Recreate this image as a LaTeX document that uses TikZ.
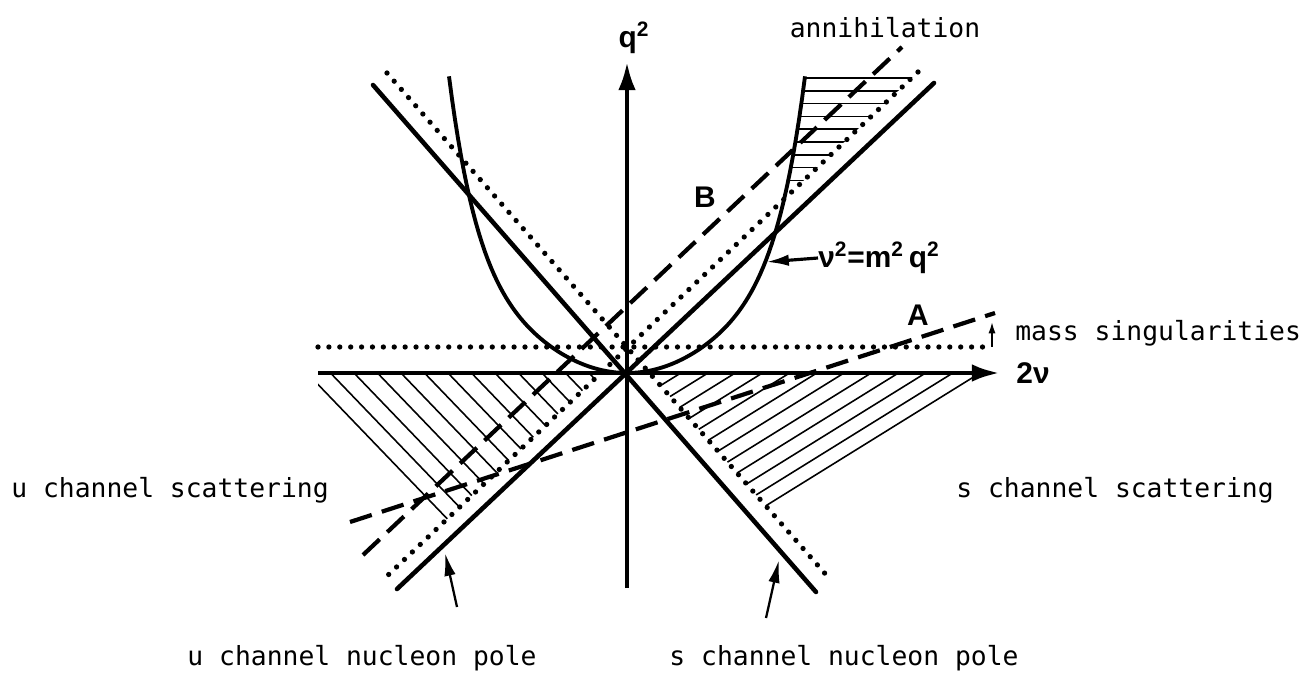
\documentclass[tikz,border=0pt]{standalone}
\usepackage{fontspec}
\setmonofont{DejaVu Sans Mono}
\newfontfamily\lblsans{Liberation Sans}
\usetikzlibrary{arrows.meta}

\begin{document}
\begin{tikzpicture}[x=0.02cm, y=-0.02cm,
  pole/.style={line width=2.6pt, line cap=round},
  axisln/.style={line width=2.4pt, -{Latex[length=16pt, width=10pt]}},
  dotln/.style={line width=3pt, line cap=round, dash pattern=on 0pt off 6.2pt},
  dashln/.style={line width=2.4pt, dash pattern=on 13pt off 6pt},
  hatch/.style={line width=0.9pt},
  nucurve/.style={line width=2.2pt},
  txt/.style={font=\fontsize{15}{18}\selectfont\ttfamily, inner sep=0pt},
  mth/.style={font=\fontsize{17}{20}\selectfont\lblsans\bfseries, inner sep=0pt},
  ptr/.style={line width=1.3pt, -{Latex[length=13pt, width=6.5pt]}},
  declare function={hu(\d)=(abs(\d)+0.01)/178; hq(\d)=142.6*hu(\d)*hu(\d)+154*pow(hu(\d),7.2);}
]
\useasboundingbox (0,0) rectangle (1311,675);

% hatching, u channel side
\begin{scope}
  \clip (318,373) rectangle (700,600);
  \foreach \k in {0,...,12} {
    \pgfmathsetmacro\xo{307+23.5*\k}
    \pgfmathsetmacro\tt{(204-0.949*(\xo-386))/1.989}
    \draw[hatch] (\xo,373) -- ++(\tt,1.04*\tt);
  }
\end{scope}
% hatching, s channel side
\foreach \k in {0,...,12} {
  \pgfmathsetmacro\xo{980-27.2*\k}
  \pgfmathsetmacro\tt{(1.143*(\xo-387)-300)/1.763}
  \draw[hatch] (\xo,373) -- ++(-\tt,0.62*\tt);
}
% hatching, annihilation side
\begin{scope}
  \clip plot[domain=0:178, samples=60] ({627+\x}, {373-hq(\x)}) -- (1000,76) -- (1000,373) -- cycle;
  \clip (386,577) -- (918,72) -- (386,72) -- cycle;
  \foreach \y in {78,90.8,...,182} \draw[hatch] (700,\y) -- (950,\y);
\end{scope}

% dotted lines
\draw[dotln] (318,347) -- (992,347);
\draw[dotln] (387,73) -- (828,577);
\draw[dotln] (918,72) -- (386,577);

% nucleon poles
\draw[pole] (373,85) -- (816,592);
\draw[pole] (934,83) -- (397,589);

% nu^2 = m^2 q^2
\draw[nucurve] plot[domain=-178:178, samples=120] ({627+\x}, {373-hq(\x)});

% axes
\draw[axisln] (627,588) -- (627,62);
\draw[axisln, line width=2.8pt] (318,373) -- (1000,373);

% lines A and B
\draw[dashln] (350,522) -- (995,313);
\draw[dashln] (363,555) -- (902,47);

% labels
\node[mth] (qlab) at (634,38) {q\textsuperscript{2}};
\node[mth] (nlab) at (1033,373) {2ν};
\node[mth] (blab) at (705,197) {B};
\node[mth] (alab) at (918,315) {A};
\node[mth, anchor=west] (cusp) at (818,258) {ν\textsuperscript{2}=m\textsuperscript{2}\,q\textsuperscript{2}};
\node[txt] (annih) at (885,28) {annihilation};
\node[txt, anchor=west] (mass) at (1015,333) {mass singularities};
\node[txt] (uscat) at (170,490) {u channel scattering};
\node[txt] (sscat) at (1115,490) {s channel scattering};
\node[txt] (upole) at (362,658) {u channel nucleon pole};
\node[txt] (spole) at (844,658) {s channel nucleon pole};

% pointers
\coordinate (ut) at (457,607);
\coordinate (uh) at (445,553);
\coordinate (st) at (766,618);
\coordinate (sh) at (779,560);
\coordinate (mt) at (992,347);
\coordinate (mh) at (992,321);
\coordinate (ch) at (766,262);
\draw[ptr] (ut) -- (uh);
\draw[ptr] (st) -- (sh);
\draw[ptr, -{Latex[length=7pt, width=4pt]}] (mt) -- (mh);
\draw[ptr, line width=1.8pt] (cusp.west) -- (ch);
\end{tikzpicture}
\end{document}
